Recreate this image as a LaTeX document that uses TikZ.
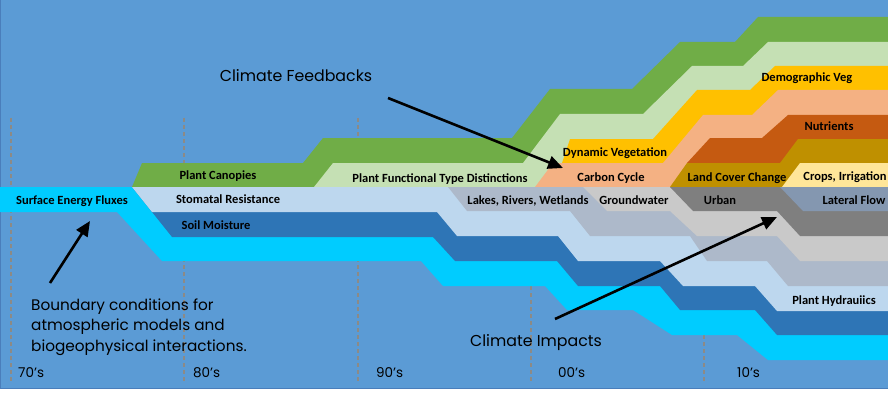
\documentclass[tikz,border=0pt]{standalone}
\usepackage{fontspec}
\setmainfont{Carlito}
\newfontfamily\notefont{Poppins}
\usetikzlibrary{arrows.meta}
\definecolor{skyback}{HTML}{5B9BD5}
\definecolor{skyedge}{HTML}{4A7EBB}
\definecolor{dashgrey}{HTML}{8C8A86}
\definecolor{canopygreen}{HTML}{70AD47}
\definecolor{pftgreen}{HTML}{C5E0B4}
\definecolor{vegyellow}{HTML}{FFC000}
\definecolor{carbonsalmon}{HTML}{F4B183}
\definecolor{nutrientorange}{HTML}{C55A11}
\definecolor{landgold}{HTML}{BF9000}
\definecolor{cropyellow}{HTML}{FFE699}
\definecolor{lateralblue}{HTML}{8497B0}
\definecolor{urbangrey}{HTML}{7F7F7F}
\definecolor{groundgrey}{HTML}{C9C9C9}
\definecolor{lakegrey}{HTML}{ADB9CA}
\definecolor{stomablue}{HTML}{BDD7EE}
\definecolor{soilblue}{HTML}{2E75B6}
\definecolor{fluxcyan}{HTML}{00CCFF}
\newcommand{\band}[2]{\fill[#1] #2 -- cycle;}
\newcommand{\bandlabel}[4]{\node[bandtext] (#1) at ( #2 , #3 ) {#4};}
\newcommand{\decade}[1]{\draw[decadeline] ( #1 , 118 ) -- ( #1 , 382 );}

\begin{document}
\begin{tikzpicture}[x=1pt,y=-1pt,
  bandtext/.style={font=\bfseries\fontsize{12.5}{14}\selectfont, inner sep=0pt, text height=8pt, text depth=0pt},
  notetext/.style={font=\notefont\fontsize{15.8}{20.5}\selectfont, inner sep=0pt, text height=11pt, text depth=0pt},
  decadetext/.style={font=\notefont\fontsize{13.5}{16}\selectfont, inner sep=0pt, anchor=west, text height=9.5pt, text depth=0pt},
  decadeline/.style={dashgrey, line width=1.4pt, dash pattern=on 4pt off 3pt},
  notearrow/.style={line width=2.6pt, -{Triangle[length=15pt,width=13pt]}}]
\useasboundingbox (0,0) rectangle (888,393);
\fill[white] (0,0) rectangle (888,393);
\filldraw[fill=skyback, draw=skyedge, line width=1pt] (0.5,-10) rectangle (900,388.5);
% decade markers
\decade{11}
\decade{184}
\decade{358}
\decade{531}
\decade{704}
% upper stack, top band first
\band{canopygreen}{(132,187) -- (142,163) -- (303,163) -- (323,138) -- (512,138) -- (550,89) -- (632,89) -- (680,42) -- (735,42) -- (758,17) -- (888,17) -- (888,187)}
\band{pftgreen}{(314,187) -- (333,163) -- (523,163) -- (560,114) -- (643,114) -- (692,66) -- (743,66) -- (768,42) -- (888,42) -- (888,187)}
\band{vegyellow}{(562,187) -- (562,163) -- (570,139) -- (653,139) -- (697,90) -- (750,90) -- (775,66) -- (888,66) -- (888,187)}
\band{carbonsalmon}{(535,187) -- (553,163) -- (663,163) -- (703,115) -- (752,115) -- (778,90) -- (888,90) -- (888,187)}
\band{nutrientorange}{(687,187) -- (687,163) -- (710,138) -- (762,138) -- (788,115) -- (888,115) -- (888,187)}
\band{landgold}{(670,187) -- (687,163) -- (780,163) -- (798,139) -- (888,139) -- (888,187)}
\band{cropyellow}{(782,187) -- (800,163) -- (888,163) -- (888,187)}
% lower stack, bottom band first
\band{fluxcyan}{(0,187) -- (888,187) -- (888,360) -- (768,360) -- (737,335) -- (672,335) -- (633,310) -- (567,310) -- (545,286) -- (443,286) -- (421,261) -- (162,261) -- (117,212) -- (0,212)}
\band{soilblue}{(132,187) -- (888,187) -- (888,335) -- (777,335) -- (755,310) -- (680,310) -- (660,286) -- (578,286) -- (557,261) -- (455,261) -- (433,237) -- (172,237)}
\band{stomablue}{(132,187) -- (888,187) -- (888,311) -- (777,311) -- (755,286) -- (683,286) -- (660,261) -- (578,261) -- (558,236) -- (457,236) -- (437,212) -- (152,212)}
\band{lakegrey}{(448,187) -- (888,187) -- (888,286) -- (788,286) -- (767,261) -- (707,261) -- (690,236) -- (590,236) -- (570,211) -- (467,211)}
\band{groundgrey}{(583,187) -- (888,187) -- (888,261) -- (800,261) -- (777,236) -- (697,236) -- (670,211) -- (607,211)}
\band{urbangrey}{(670,187) -- (888,187) -- (888,236) -- (800,236) -- (777,211) -- (693,211)}
\band{lateralblue}{(780,187) -- (888,187) -- (888,211) -- (803,211)}
% band labels
\bandlabel{sef}{72}{200}{Surface Energy Fluxes}
\bandlabel{canopy}{218}{175}{Plant Canopies}
\bandlabel{stomata}{228}{199}{Stomatal Resistance}
\bandlabel{soil}{216}{225}{Soil Moisture}
\bandlabel{pft}{440}{178}{Plant Functional Type Distinctions}
\bandlabel{lakes}{528}{200}{Lakes, Rivers, Wetlands}
\bandlabel{groundwater}{634}{200}{Groundwater}
\bandlabel{dynveg}{615}{153}{Dynamic Vegetation}
\bandlabel{carbon}{611}{177}{Carbon Cycle}
\bandlabel{landcover}{737}{177}{Land Cover Change}
\bandlabel{crops}{845}{176}{Crops, Irrigation}
\bandlabel{demog}{807}{78}{Demographic Veg}
\bandlabel{nutrients}{829}{127}{Nutrients}
\bandlabel{urban}{720}{200}{Urban}
\bandlabel{lateral}{854}{200}{Lateral Flow}
\bandlabel{hydraulics}{834}{300}{Plant Hydrauiics}
% decade labels
\node[decadetext] (d70) at (18,373) {70’s};
\node[decadetext] (d80) at (193,373) {80’s};
\node[decadetext] (d90) at (376,373) {90’s};
\node[decadetext] (d00) at (558,373) {00’s};
\node[decadetext] (d10) at (737,373) {10’s};
% notes and arrows
\node[notetext] (feedbacks) at (296,76) {Climate Feedbacks};
\node[notetext] (impacts) at (536,341) {Climate Impacts};
\node[notetext, font=\notefont\fontsize{15.3}{20.5}\selectfont, text height=, align=left, anchor=west] (boundary) at (31,325) {Boundary conditions for\\atmospheric models and\\biogeophysical interactions.};
\coordinate (fbtail) at (388,98);
\coordinate (fbtip) at (563,168);
\coordinate (imtail) at (555,319);
\coordinate (imtip) at (777,217);
\coordinate (bctail) at (50,283);
\coordinate (bctip) at (90,221);
\draw[notearrow] (fbtail) -- (fbtip);
\draw[notearrow] (imtail) -- (imtip);
\draw[notearrow] (bctail) -- (bctip);
\end{tikzpicture}
\end{document}
